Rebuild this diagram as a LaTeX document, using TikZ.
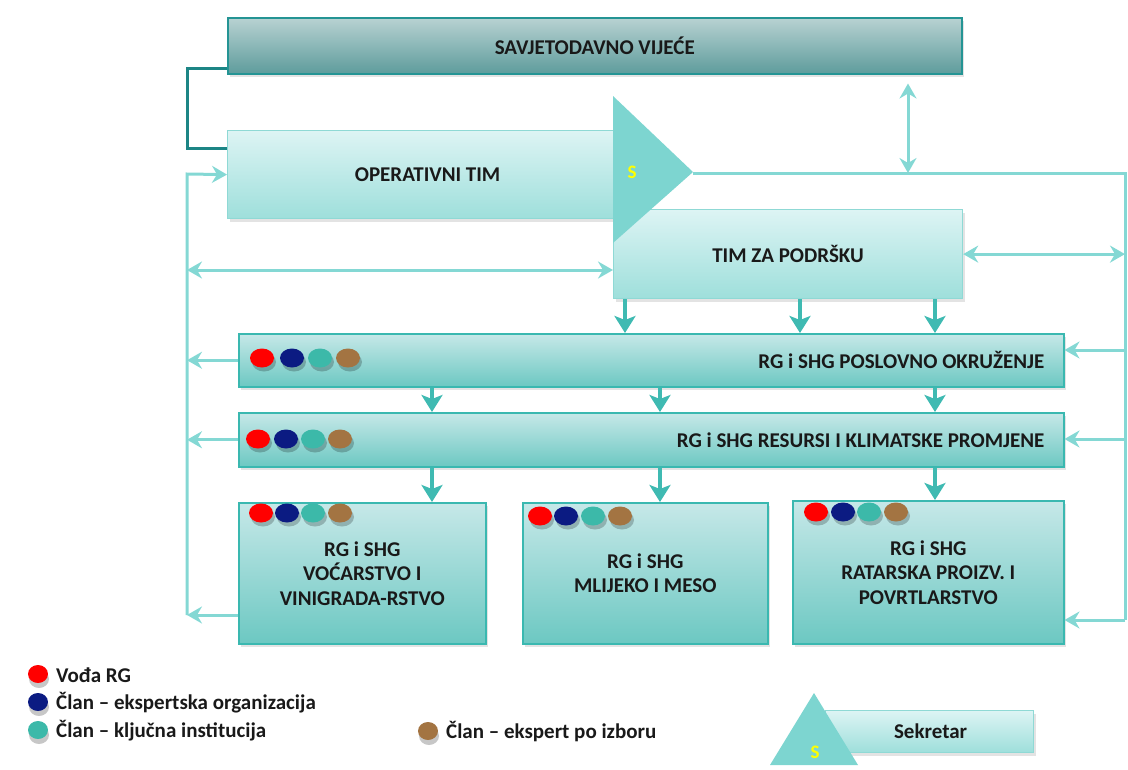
\documentclass[tikz,border=0pt]{standalone}
\usepackage{fontspec}
\setmainfont{Carlito}
\usetikzlibrary{arrows.meta,shadows,calc}
\definecolor{arrc}{HTML}{84D8D4}
\definecolor{darr}{HTML}{3FBAB2}
\definecolor{brk}{HTML}{1C8585}
\definecolor{svtop}{HTML}{B8D2D2}
\definecolor{svbot}{HTML}{5E9C9C}
\definecolor{svedge}{HTML}{249494}
\definecolor{ltop}{HTML}{DDF4F4}
\definecolor{lbot}{HTML}{9EDFDB}
\definecolor{ledge}{HTML}{8FD9D5}
\definecolor{mtop}{HTML}{C6E8E8}
\definecolor{mbot}{HTML}{6CC8C2}
\definecolor{medge}{HTML}{3AB8B0}
\definecolor{trif}{HTML}{7DD5D0}
\definecolor{dred}{HTML}{FF0000}
\definecolor{dnavy}{HTML}{0B1B82}
\definecolor{dteal}{HTML}{3CB9A9}
\definecolor{dbrown}{HTML}{A37442}
\definecolor{syel}{HTML}{FFFF00}
\begin{document}
\begin{tikzpicture}[x=1pt,y=-1pt,
  font=\bfseries\fontsize{21}{24.5}\selectfont,
  basebox/.style={inner sep=0pt, anchor=north west, align=center, text=black!90,
     drop shadow={opacity=0.22, shadow xshift=2pt, shadow yshift=-3pt}},
  svbox/.style={basebox, draw=svedge, line width=1.5pt, top color=svtop, bottom color=svbot},
  lbox/.style={basebox, draw=ledge, line width=1.2pt, top color=ltop, bottom color=lbot},
  mbox/.style={basebox, draw=medge, line width=1.5pt, top color=mtop, bottom color=mbot},
  txt/.style={inner sep=0pt, text=black!90},
  aline/.style={draw=arrc, line width=3pt},
  aone/.style={aline, -{Stealth[length=15pt,width=17pt,inset=5pt]}},
  atwo/.style={aline, {Stealth[length=15pt,width=17pt,inset=5pt]}-{Stealth[length=15pt,width=17pt,inset=5pt]}},
  dn/.style={draw=darr, line width=4pt, -{Stealth[length=17pt,width=21pt,inset=4pt]}},
  brack/.style={draw=brk, line width=3pt},
  dotsh/.style={fill=black, opacity=0.22},
  sletter/.style={text=syel, font=\bfseries\fontsize{19}{20}\selectfont}
]
\useasboundingbox (0,0) rectangle (1128,769);

% ---------- boxes ----------
\node[svbox, minimum width=734pt, minimum height=56pt] (sv) at (227,17) {SAVJETODAVNO VIJEĆE};
\node[lbox, minimum width=388pt, minimum height=88pt] (ot) at (227,130) {\hspace*{12pt}OPERATIVNI TIM};
\node[lbox, minimum width=349pt, minimum height=89pt] (tzp) at (613,209) {TIM ZA PODRŠKU};
\node[mbox, minimum width=825pt, minimum height=53pt] (po) at (238,333) {};
\node[txt, anchor=east] (pot) at ($(po.east)+(-20,0)$) {RG i SHG POSLOVNO OKRUŽENJE};
\node[mbox, minimum width=825pt, minimum height=54pt] (rk) at (238,412) {};
\node[txt, anchor=east] (rkt) at ($(rk.east)+(-20,0)$) {RG i SHG RESURSI I KLIMATSKE PROMJENE};
\node[mbox, minimum width=247pt, minimum height=141pt] (b1) at (238,502) {RG i SHG\\VOĆARSTVO I\\VINIGRADA-RSTVO};
\node[mbox, minimum width=245pt, minimum height=141pt] (b2) at (522,502) {RG i SHG\\MLIJEKO I MESO};
\node[mbox, minimum width=271pt, minimum height=143pt] (b3) at (792,500) {RG i SHG\\RATARSKA PROIZV. I\\POVRTLARSTVO};

% ---------- secretary triangle ----------
\fill[trif] (613,96) -- (693,172) -- (613,243) -- cycle;
\node[sletter] (s1) at (632,172) {S};
\coordinate (tip) at (693,173);

% ---------- coordinates ----------
\coordinate (rc1) at (1125,173);
\coordinate (rc2) at (1125,620);
\coordinate (lc1) at (187,174);
\coordinate (lc2) at (187,615);
\coordinate (lh) at (187,270);
\coordinate (rpo) at (1125,350);
\coordinate (rrk) at (1125,439);
\coordinate (vx) at (908,173);
\coordinate (bk1) at (187,68);
\coordinate (bk2) at (187,148);
\coordinate (xa) at (625,0);
\coordinate (xb) at (800,0);
\coordinate (xc) at (935,0);
\coordinate (xd) at (432,0);
\coordinate (xe) at (660,0);

% ---------- bracket ----------
\draw[brack] (sv.west |- bk1) -- (bk1) -- (bk2) -- (ot.west |- bk2);

% ---------- right side ----------
\draw[aline] (tip) -- (rc1) -- (rc2);
\draw[atwo, shorten <=9pt] (sv.south -| vx) -- (vx);
\draw[atwo] (tzp.east) -- (tzp.east -| rc1);
\draw[aone] (rpo) -- (po.east |- rpo);
\draw[aone] (rrk) -- (rk.east |- rrk);
\draw[aone] (rc2) -- (b3.east |- rc2);

% ---------- left side ----------
\draw[aone] (lc2) -- (lc1) -- (ot.west);
\draw[atwo] (lh) -- (tzp.west |- lh);
\draw[aone] (po.west) -- (po.west -| lc1);
\draw[aone] (rk.west) -- (rk.west -| lc1);
\draw[aone] (b1.west |- lc2) -- (lc2);

% ---------- down arrows ----------
\draw[dn] (tzp.south -| xa) -- (po.north -| xa);
\draw[dn] (tzp.south -| xb) -- (po.north -| xb);
\draw[dn] (tzp.south -| xc) -- (po.north -| xc);
\draw[dn] (po.south -| xd) -- (rk.north -| xd);
\draw[dn] (po.south -| xe) -- (rk.north -| xe);
\draw[dn] (po.south -| xc) -- (rk.north -| xc);
\draw[dn] (rk.south -| xd) -- (b1.north -| xd);
\draw[dn] (rk.south -| xe) -- (b2.north -| xe);
\draw[dn] (rk.south -| xc) -- (b3.north -| xc);

% ---------- member dots ----------
\foreach \x/\y/\c in {262/358/dred,292/358/dnavy,320/358/dteal,348/358/dbrown,
                      258/439/dred,286/439/dnavy,313/439/dteal,340/439/dbrown,
                      261/513/dred,287/513/dnavy,313/513/dteal,340/513/dbrown,
                      540/516/dred,566/516/dnavy,593/516/dteal,620/516/dbrown,
                      816/512/dred,843/512/dnavy,869/512/dteal,896/512/dbrown}{
  \fill[dotsh] (\x+2,\y+4) ellipse (12pt and 9.5pt);
  \fill[\c] (\x,\y) ellipse (12pt and 9.5pt);
}

% ---------- legend ----------
\foreach \x/\y/\c in {38/674/dred,38/702/dnavy,38/730/dteal,428/731/dbrown}{
  \fill[dotsh] (\x+1,\y+5) ellipse (10pt and 9pt);
  \fill[\c] (\x,\y) ellipse (10pt and 9pt);
}
\node[txt, anchor=west] (l1) at (56,675) {Vođa RG};
\node[txt, anchor=west] (l2) at (56,703) {Član – ekspertska organizacija};
\node[txt, anchor=west] (l3) at (56,731) {Član – ključna institucija};
\node[txt, anchor=west] (l4) at (446,732) {Član – ekspert po izboru};

\node[lbox, minimum width=208pt, minimum height=42pt] (sek) at (825,710) {\hspace*{2pt}Sekretar};
\fill[trif] (814,693) -- (858,765) -- (770,765) -- cycle;
\node[sletter] (s2) at (815,752) {S};
\end{tikzpicture}
\end{document}
